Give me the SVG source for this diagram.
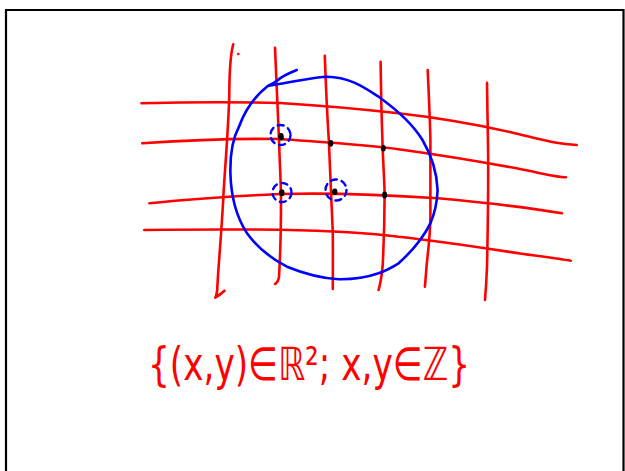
<svg xmlns="http://www.w3.org/2000/svg" width="625" height="471" viewBox="0 0 625 471">
<style>
.red{fill:none;stroke:#ff0000;stroke-width:2.6;stroke-linecap:round;stroke-linejoin:round}
.blue{fill:none;stroke:#0000ff;stroke-width:2.6;stroke-linecap:round;stroke-linejoin:round}
.dash{fill:none;stroke:#0000ff;stroke-width:2.4;stroke-dasharray:6 5;stroke-linecap:round}
.dot{fill:#000}
.lbl{font-family:"DejaVu Sans","Noto Sans",sans-serif;font-size:46px;fill:#ff0000}
</style>
<rect width="625" height="471" fill="#fff"/>
<path d="M6,471 V10 H623.5 V471" fill="none" stroke="#000" stroke-width="2.2"/>
<g id="grid-horizontal">
<path class="red" d="M141.5,103.3 C190,102 229,101.7 280,103 C330,106 360,109 398.6,113.3 C440,118 486,126.7 510,132 C540,139 555,144 576.7,145"/>
<path class="red" d="M142.3,143.3 C190,140 239,138.3 280,139 C330,142.7 370,145 398.6,149.3 C440,155 486,162.7 520,169 C545,174 556,177 566,177.3"/>
<path class="red" d="M149.5,203.3 C180,200 223,196.7 280,194 C330.8,192.7 390,195 438,198.3 C490,203 530,208 562,213.3"/>
<path class="red" d="M144.3,230 C180,229.5 219,229.3 280,229.7 C326.8,230.7 370,233 398.6,236.7 C440,241 486,248.3 520,253.5 C545,257 560,259 570.7,260.7"/>
</g>
<g id="grid-vertical">
<path class="red" d="M233.2,44.3 C229,60 229.5,80 229.2,100 C227,150 224,180 223.2,200 C221,240 218,270 217.2,290 C216.5,295 215.5,298 215.2,297.7 C218,296 222,293 224.4,290.7"/>
<path class="red" d="M275,47.7 C277,90 278,120 279,140 C280,170 281,185 281,200 C281,240 280,260 279,276.7 C278.5,280 277,283 275,284"/>
<path class="red" d="M324.8,55.7 C326,90 327.5,120 328.8,140 C330.5,180 332,210 332.8,233 C333,260 332.8,275 332.8,289"/>
<path class="red" d="M380.6,61.7 C381,100 382,130 382.6,146.7 C383.5,170 384.6,185 384.6,195 C384.5,230 383.5,250 382.6,266.7 C381.5,278 380,285 378.6,290"/>
<path class="red" d="M427.7,70 C429,100 430,120 430.4,140 C430.6,170 430.6,195 430.4,216.7 C430,240 427.5,255 426.5,266.7 C426,275 425.3,281 424.9,286.7"/>
<path class="red" d="M487,82.7 C487.5,120 488.2,145 488.2,166.7 C488.2,210 487.6,240 487,266.7 C486.5,280 485.7,292 485,300"/>
<circle cx="238.3" cy="54" r="1.3" fill="#ff0000"/>
</g>
<g id="disk">
<path class="blue" d="M296.7,70 C287,74 281,77 278,80 C274,83 270,85 267.8,86 C300,81 314,77 326.8,76.7 C350,77 365,88 378.6,96.7 C400,112 414,126 422.5,140 C433,158 437,175 437.6,190 C437,205 434,215 430.4,223.3 C422,240 410,253 398.6,263.3 C391,268 385,271 378.6,273.3 C365,278 352,279.5 338.8,279.3 C318,278 300,272 287,266.7 C270,258 257,247 247,233.3 C237,218 231,196 230.4,173.3 C230,155 233,138 239,126.7 C245,110 255,96 267.8,86"/>
</g>
<g id="points">
<ellipse class="dot" cx="281" cy="136.7" rx="2.8" ry="3.8"/>
<ellipse class="dot" cx="330.8" cy="143.3" rx="2.5" ry="3.4"/>
<ellipse class="dot" cx="383.4" cy="148.3" rx="2.4" ry="3.2"/>
<ellipse class="dot" cx="281.8" cy="192.7" rx="2.8" ry="3.5"/>
<ellipse class="dot" cx="334.8" cy="191.7" rx="2.7" ry="3.2"/>
<ellipse class="dot" cx="384.6" cy="195" rx="2.5" ry="3.4"/>
</g>
<g id="marked">
<circle class="dash" cx="280.5" cy="135" r="10"/>
<circle class="dash" cx="282" cy="192.5" r="9.5"/>
<circle class="dash" cx="336" cy="190" r="10.5"/>
</g>
<g id="label">
<text class="lbl" x="148" y="380" textLength="322" lengthAdjust="spacingAndGlyphs">{(x,y)∈ℝ²; x,y∈ℤ}</text>
</g>
</svg>
